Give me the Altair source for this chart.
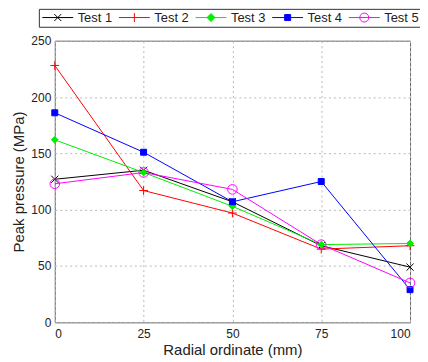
import altair as alt
import pandas as pd

x_values = [0, 25, 50, 75, 100]
series_names = ["Test 1", "Test 2", "Test 3", "Test 4", "Test 5"]
test1 = [127, 135, 107, 68, 49]
test2 = [228, 117, 97, 65, 68]
test3 = [162, 133, 103, 69, 70]
test4 = [186, 151, 107, 125, 29]
test5 = [123, 133, 118, 69, 35]
colors = ["#000000", "#ff0000", "#00ee00", "#0000ff", "#ff00ff"]
fills = ["transparent", "transparent", "#00ee00", "#0000ff", "transparent"]

marker_paths = [
    "M-0.9,-0.9L0.9,0.9M-0.9,0.9L0.9,-0.9",
    "M-1.1,0L1.1,0M0,-1.1L0,1.1",
    "M0,-0.85L0.85,0L0,0.85L-0.85,0Z",
    "M-0.75,-0.75L0.75,-0.75L0.75,0.75L-0.75,0.75Z",
    "M1.2,0A1.2,1.2 0 1,1 -1.2,0A1.2,1.2 0 1,1 1.2,0Z",
]
# legend symbols: a line segment with the marker in its middle
legend_paths = [
    "M-1,0L5.2,0M1.4,-0.7L2.8,0.7M1.4,0.7L2.8,-0.7",
    "M-1,0L5.2,0M2.1,-0.9L2.1,0.9",
    "M-1,0L5.2,0M2.1,-0.8L2.9,0L2.1,0.8L1.3,0Z",
    "M-1,0L5.2,0M1.5,-0.6L2.7,-0.6L2.7,0.6L1.5,0.6Z",
    "M-1,0L5.2,0M3,0A0.9,0.9 0 1,1 1.2,0A0.9,0.9 0 1,1 3,0",
]

rows = []
for name, vals in zip(series_names, [test1, test2, test3, test4, test5]):
    for xv, yv in zip(x_values, vals):
        rows.append({"Series": name, "x": xv, "y": yv})
df = pd.DataFrame(rows)

font = "Liberation Sans"

x_enc = alt.X("x:Q", scale=alt.Scale(domain=[0, 100], nice=False),
              axis=alt.Axis(values=x_values, title="Radial ordinate (mm)"))
y_enc = alt.Y("y:Q", scale=alt.Scale(domain=[0, 250], nice=False),
              axis=alt.Axis(values=[0, 50, 100, 150, 200, 250], title="Peak pressure (MPa)"))

stroke_scale = alt.Scale(domain=series_names, range=colors)
fill_scale = alt.Scale(domain=series_names, range=fills)

lines = alt.Chart(df).mark_line(strokeWidth=1).encode(
    x=x_enc, y=y_enc,
    stroke=alt.Stroke("Series:N", scale=stroke_scale, legend=None),
)

points = alt.Chart(df).mark_point(size=64, strokeWidth=1, opacity=1).encode(
    x="x:Q", y="y:Q",
    stroke=alt.Stroke("Series:N", scale=stroke_scale, legend=None),
    fill=alt.Fill("Series:N", scale=fill_scale, legend=None),
    shape=alt.Shape("Series:N", scale=alt.Scale(domain=series_names, range=marker_paths), legend=None),
)

legend_layer = alt.Chart(df).transform_filter("datum.y < -1000").mark_point(
    size=100, strokeWidth=1, opacity=1
).encode(
    x="x:Q", y="y:Q",
    stroke=alt.Stroke("Series:N", scale=stroke_scale, title=None),
    fill=alt.Fill("Series:N", scale=fill_scale, title=None),
    shape=alt.Shape("Series:N", scale=alt.Scale(domain=series_names, range=legend_paths), title=None),
)

chart = alt.layer(lines, points, legend_layer).resolve_scale(
    stroke="independent", fill="independent", shape="independent"
).properties(
    width=357, height=283,
    autosize=alt.AutoSizeParams(type="none"),
    padding={"left": 47, "top": 32, "right": 10, "bottom": 38},
).configure_view(
    stroke="#666666", strokeWidth=1
).configure_axis(
    labelFont=font, titleFont=font, labelFontSize=12, titleFontSize=15,
    labelColor="#222222", titleColor="#222222", titleFontWeight="normal",
    grid=True, gridColor="#b8b8b8", gridDash=[2, 3], gridWidth=1,
    ticks=False, domain=False, labelPadding=4,
).configure_axisY(
    titlePadding=4
).configure_axisX(
    titlePadding=3, labelPadding=6
).configure_legend(
    orient="none", legendX=-16, legendY=-32,
    direction="horizontal", labelFont=font, labelFontSize=13,
    labelColor="#222222", strokeColor="#333333", fillColor="white",
    padding=2, labelOffset=24, columnPadding=4, symbolStrokeWidth=1,
)

chart.save("out.html", embed_options={"renderer": "svg", "actions": False})
